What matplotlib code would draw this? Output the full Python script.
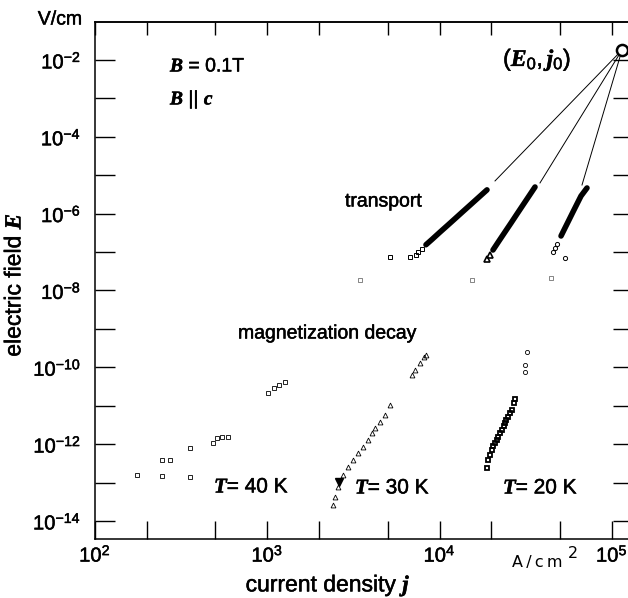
import math
import matplotlib
matplotlib.use("Agg")
import matplotlib.pyplot as plt
import matplotlib.patheffects as pe
from matplotlib import font_manager
from matplotlib.ticker import FixedLocator, FuncFormatter, NullFormatter


def has_font(name):
    try:
        font_manager.findfont(name, fallback_to_default=False)
        return True
    except Exception:
        return False


SANS = "Liberation Sans" if has_font("Liberation Sans") else "DejaVu Sans"
SERIF = "Liberation Serif" if has_font("Liberation Serif") else "DejaVu Serif"

plt.rcParams["font.family"] = [SANS, "DejaVu Sans"]
plt.rcParams["mathtext.fontset"] = "custom"
plt.rcParams["mathtext.rm"] = SANS
plt.rcParams["mathtext.it"] = SERIF + ":italic:bold"
plt.rcParams["mathtext.bf"] = SANS + ":bold"

# --- data (current density j in A/cm^2, electric field E in V/cm) ---

# extrapolation point (E0, j0)
j0 = 1.145e5
E0 = 1.82e-2

# transport measurements, dense part of each band
t40_j = [8336, 9040, 10050, 11190, 12290, 13490, 15010, 16710, 18840]
t40_E = [1.55e-7, 2.14e-7, 3.30e-7, 5.07e-7, 7.4e-7, 1.08e-6, 1.66e-6, 2.56e-6, 4.16e-6]
t30_j = [20410, 22120, 23960, 25970, 28130, 30480, 33030, 35790]
t30_E = [1.13e-7, 1.95e-7, 3.33e-7, 5.7e-7, 9.8e-7, 1.68e-6, 2.88e-6, 4.94e-6]
t20_j = [50670, 53440, 56370, 59460, 62730, 66170, 71700]
t20_E = [2.62e-7, 4.24e-7, 6.85e-7, 1.11e-6, 1.79e-6, 2.88e-6, 4.66e-6]

# transport, sparse points at the low end of each band
t40_sparse_j = [7295, 7494, 7906, 6733, 5153]
t40_sparse_E = [8.4e-8, 1.0e-7, 1.2e-7, 7.45e-8, 7.45e-8]
t30_sparse_j = [18840, 19600]
t30_sparse_E = [6.6e-8, 8.6e-8]
t20_sparse_j = [45510, 46700, 48030, 53440]
t20_sparse_E = [1.0e-7, 1.3e-7, 1.63e-7, 7.0e-8]
# stray transport points near 2e-8
t_low_j = [3451, 15420, 44320]
t_low_E = [1.88e-8, 1.88e-8, 2.12e-8]

# end points of the extrapolation lines towards (E0, j0)
fit_j = [20970, 38250, 67060]
fit_E = [7.1e-6, 6.3e-6, 5.57e-6]

# magnetization decay
m40_j = [175, 245, 356, 245, 272, 356, 484, 511, 546, 591, 1010, 1094, 1169, 1267]
m40_E = [1.58e-13, 1.49e-13, 1.40e-13, 3.88e-13, 3.88e-13, 7.96e-13, 1.07e-12,
         1.45e-12, 1.54e-12, 1.54e-12, 2.15e-11, 2.9e-11, 3.48e-11, 4.16e-11]
m30_j = [2406, 2471, 2573, 2750, 2940, 3144, 3361, 3593, 3841, 4053, 4219, 4510,
         4822, 5153, 6916, 7198, 7695, 8119, 8340]
m30_E = [2.61e-14, 4.22e-14, 7.69e-14, 1.58e-13, 2.55e-13, 3.88e-13, 5.9e-13,
         8.45e-13, 1.29e-12, 1.96e-12, 2.64e-12, 3.78e-12, 5.75e-12, 1.05e-11,
         6.33e-11, 8.53e-11, 1.30e-10, 1.86e-10, 2.10e-10]
m30_filled_j = [2608]
m30_filled_E = [1.04e-13]
m20_j = [18840, 19090, 19610, 20140, 20550, 20970, 21400, 21830, 22400, 23020,
         23500, 23970, 24450, 24950, 25600, 26320, 27030, 27390]
m20_E = [2.40e-13, 3.88e-13, 5.24e-13, 7.06e-13, 8.7e-13, 1.07e-12, 1.3e-12,
         1.54e-12, 1.9e-12, 2.34e-12, 2.9e-12, 3.56e-12, 4.3e-12, 5.1e-12,
         6.3e-12, 7.77e-12, 1.18e-11, 1.50e-11]
m20_top_j = [31310, 31310, 32160]
m20_top_E = [7.57e-11, 1.15e-10, 2.51e-10]

x_major = [1e2, 1e3, 1e4, 1e5]
x_minor = [2e2, 5e2, 2e3, 5e3, 2e4, 5e4]
y_major = [10.0 ** e for e in range(-14, -1, 2)]
y_minor = [10.0 ** e for e in range(-13, -2, 2)]

W, H = 628, 598


def fpos(px, py):
    # pixel position -> figure fraction
    return px / W, 1 - py / H


def pow10(v, pos):
    return r"$10^{%d}$" % round(math.log10(v))


fig = plt.figure(figsize=(W / 100, H / 100), dpi=100)
ax = fig.add_axes([95 / W, 59 / H, 538 / W, 517 / H])
ax.set_xscale("log")
ax.set_yscale("log")
ax.set_xlim(1e2, 10 ** 5.1225)
ax.set_ylim(10 ** -14.47, 10 ** -1.011)

# extrapolation lines
for jj, ee in zip(fit_j, fit_E):
    ax.plot([jj, j0], [ee, E0], color="black", lw=0.7)

# transport bands
for jj, ee in [(t40_j, t40_E), (t30_j, t30_E), (t20_j, t20_E)]:
    ax.plot(jj, ee, color="black", lw=4, solid_capstyle="round")
ax.plot(t40_sparse_j, t40_sparse_E, "s", ms=3, mfc="none", mec="black", mew=0.7)
ax.plot(t30_sparse_j, t30_sparse_E, "^", ms=5, mfc="none", mec="black", mew=1.2)
ax.plot(t20_sparse_j, t20_sparse_E, "o", ms=3, mfc="none", mec="black", mew=0.7)
ax.plot(t_low_j, t_low_E, "s", ms=3, mfc="none", mec="#555555", mew=0.5)

# magnetization decay
ax.plot(m40_j, m40_E, "s", ms=3.2, mfc="none", mec="black", mew=0.6)
ax.plot(m30_j, m30_E, "^", ms=3.5, mfc="none", mec="black", mew=0.6)
ax.plot(m30_filled_j, m30_filled_E, "v", ms=5.5, color="black")
ax.plot(m20_j, m20_E, "s", ms=3.5, mfc="none", mec="black", mew=1.3)
ax.plot(m20_top_j, m20_top_E, "o", ms=3, mfc="none", mec="black", mew=0.6)

ax.plot([j0], [E0], "o", ms=8, mfc="white", mec="black", mew=1.8, clip_on=False, zorder=5)

# axes styling
for s in ax.spines.values():
    s.set_linewidth(1.1)
ax.xaxis.set_major_locator(FixedLocator(x_major))
ax.xaxis.set_minor_locator(FixedLocator(x_minor))
ax.yaxis.set_major_locator(FixedLocator(y_major))
ax.yaxis.set_minor_locator(FixedLocator(y_minor))
ax.xaxis.set_major_formatter(FuncFormatter(pow10))
ax.yaxis.set_major_formatter(FuncFormatter(pow10))
ax.xaxis.set_minor_formatter(NullFormatter())
ax.yaxis.set_minor_formatter(NullFormatter())
ax.tick_params(axis="y", which="both", direction="in", length=14.5, width=1,
               left=True, right=True, labelsize=14.5, pad=10)
ax.tick_params(axis="x", which="both", direction="in", length=13, width=1,
               bottom=True, top=False, labelsize=14.5, pad=4)

top = ax.secondary_xaxis("top")
top.xaxis.set_major_locator(FixedLocator(x_major + x_minor))
top.xaxis.set_minor_locator(FixedLocator([]))
top.tick_params(direction="in", length=9.5, width=1, labeltop=False)
top.spines["top"].set_linewidth(1.1)

# labels
fig.text(*fpos(14, 285), r"electric field $E$", rotation=90, ha="center", va="center",
         fontsize=16.5)
fig.text(*fpos(328, 585), r"current density $j$", ha="center", va="center", fontsize=16.5)
fig.text(*fpos(60, 20), "V/cm", ha="center", va="center", fontsize=14)
fig.text(*fpos(512, 562), "A\u2009/\u2009c\u2009m", ha="left", va="center", fontsize=11.5,
         family="DejaVu Sans")
fig.text(*fpos(568, 553), "2", ha="left", va="center", fontsize=11.5, family="DejaVu Sans")

fig.text(*fpos(170, 67), r"$B$ = 0.1T", ha="left", va="center", fontsize=14)
fig.text(*fpos(170, 100), r"$B$ || $c$", ha="left", va="center", fontsize=14)
fig.text(*fpos(503, 60), r"$(E_0, j_0)$", ha="left", va="center", fontsize=17)
fig.text(*fpos(345, 202), "transport", ha="left", va="center", fontsize=14)
fig.text(*fpos(238, 334), "magnetization decay", ha="left", va="center", fontsize=14)
fig.text(*fpos(214, 487), r"$T$= 40 K", ha="left", va="center", fontsize=15)
fig.text(*fpos(355, 488), r"$T$= 30 K", ha="left", va="center", fontsize=15)
fig.text(*fpos(503, 488), r"$T$= 20 K", ha="left", va="center", fontsize=15)

# slightly heavier lettering, like the printed original
fig.canvas.draw()
heavy = [pe.withStroke(linewidth=0.35, foreground="black")]
for t in fig.texts + ax.get_xticklabels() + ax.get_yticklabels():
    if "A" not in t.get_text() and t.get_text() != "2":
        t.set_path_effects(heavy)

fig.savefig("out.png", dpi=100)
